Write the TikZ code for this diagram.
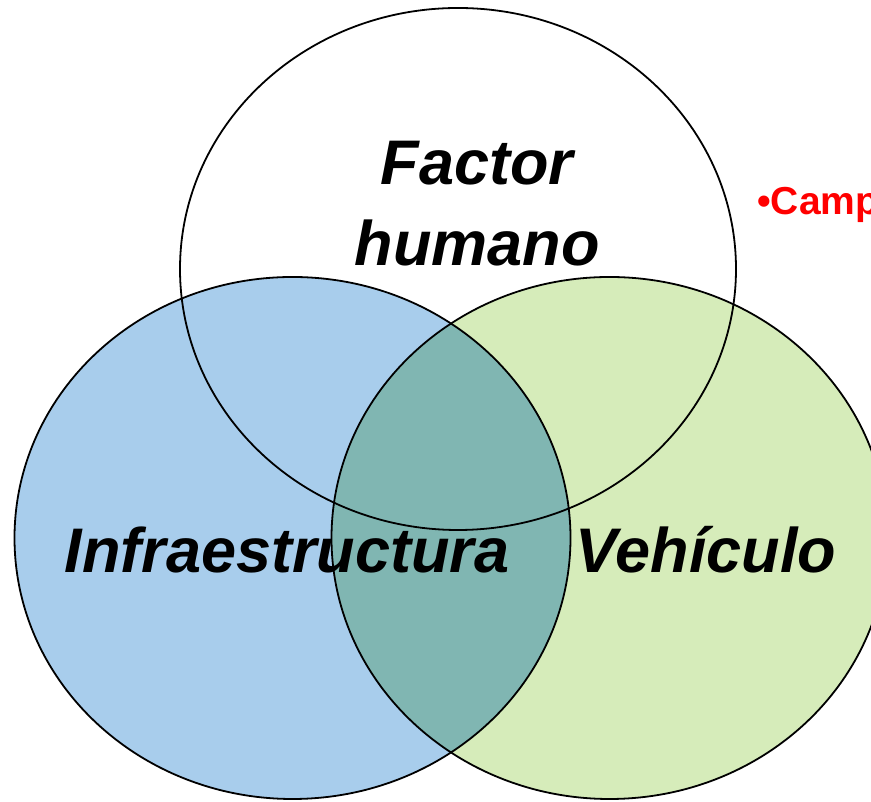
\documentclass[tikz,border=0pt]{standalone}
\usepackage{fontspec}
\setmainfont{Liberation Sans}
\definecolor{infrablue}{RGB}{168,205,236}
\definecolor{vehgreen}{RGB}{214,236,186}
\definecolor{mixteal}{RGB}{128,182,178}
\definecolor{campred}{RGB}{255,0,0}

\begin{document}
\begin{tikzpicture}[x=1pt,y=1pt,
    venntext/.style={font=\fontsize{63}{73}\selectfont\bfseries\itshape, inner sep=0pt, anchor=base},
    vennline/.style={draw=black, line width=1.8pt}]
    % Define the radii of the ellipses
    \def\rx{278}
    \def\ry{261}

    \useasboundingbox (0,0) rectangle (871,802);
    \clip (0,0) rectangle (871,802);

    % Centres of the three sets
    \coordinate (cfactor) at (458,533);
    \coordinate (cinfra) at (292.5,264);
    \coordinate (cveh) at (609.5,264);

    % Fill the two lower sets and their overlap
    \fill[infrablue] (cinfra) ellipse [x radius=\rx, y radius=\ry];
    \fill[vehgreen] (cveh) ellipse [x radius=\rx, y radius=\ry];
    \begin{scope}
      \clip (cinfra) ellipse [x radius=\rx, y radius=\ry];
      \fill[mixteal] (cveh) ellipse [x radius=\rx, y radius=\ry];
    \end{scope}

    % Outlines
    \draw[vennline] (cinfra) ellipse [x radius=\rx, y radius=\ry];
    \draw[vennline] (cveh) ellipse [x radius=\rx, y radius=\ry];
    \draw[vennline] (cfactor) ellipse [x radius=\rx, y radius=\ry];

    % Labels
    \node[venntext] (factor) at (477,617) {Factor};
    \node[venntext] (humano) at (477,536) {humano};
    \node[venntext] (infra) at (287,229) {Infraestructura};
    \node[venntext] (veh) at (706,229) {Vehículo};
    \node[font=\fontsize{39}{45}\selectfont\bfseries, text=campred, inner sep=0pt, anchor=base west] (camp) at (757,587) {•Camp};
\end{tikzpicture}
\end{document}
